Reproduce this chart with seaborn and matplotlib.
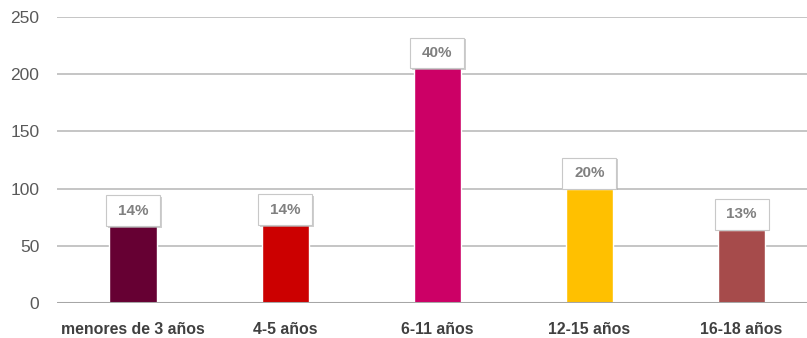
import matplotlib
matplotlib.use("Agg")
import matplotlib.pyplot as plt
import matplotlib.patheffects as pe
from matplotlib.patches import Rectangle
import seaborn as sns
import pandas as pd

categories = ["menores de 3 años", "4-5 años", "6-11 años", "12-15 años", "16-18 años"]
values = [67, 68, 205, 100, 64]
pct_labels = ["14%", "14%", "40%", "20%", "13%"]
colors = ["#660033", "#CC0000", "#CC0066", "#FFC000", "#A64B4B"]
yticks = [0, 50, 100, 150, 200, 250]

sns.set_theme(style="white")
plt.rcParams["font.family"] = ["Liberation Sans", "DejaVu Sans"]

df = pd.DataFrame({"cat": categories, "val": values})

fig = plt.figure(figsize=(8.07, 3.38), dpi=100)
ax = fig.add_axes([57 / 807, 1 - 303 / 338, 1 - 57 / 807, 286 / 338])

sns.barplot(data=df, x="cat", y="val", hue="cat", palette=colors, width=0.31,
            legend=False, ax=ax, saturation=1, zorder=3)

ax.set_ylim(0, 250)
ax.set_xlim(-0.5, 4.43)
ax.set_yticks(yticks)
for t in yticks:
    if t == 0:
        ax.axhline(t, color="#a6a6a6", lw=2.2, zorder=4)
    else:
        ax.axhline(t, color="#c0c0c0", lw=1.3, zorder=1)

for s in ax.spines.values():
    s.set_visible(False)

ax.set_xlabel("")
ax.set_ylabel("")
ax.tick_params(axis="y", length=0, pad=12.7, labelsize=12.5, labelcolor="#595959")
ax.tick_params(axis="x", length=0, pad=14, labelsize=11.4)
for lbl in ax.get_xticklabels():
    lbl.set_fontweight("bold")
    lbl.set_color("#404040")

box_w = 0.355
box_h = 27.0
for i, (v, lab) in enumerate(zip(values, pct_labels)):
    rect = Rectangle((i - box_w / 2, v), box_w, box_h, facecolor="white",
                     edgecolor="#c8c8c8", lw=0.8, zorder=5)
    rect.set_path_effects([pe.SimplePatchShadow(offset=(1.2, -1.2), shadow_rgbFace="#b0b0b0", alpha=0.6),
                           pe.Normal()])
    ax.add_patch(rect)
    ax.text(i, v + box_h / 2, lab, ha="center", va="center", fontsize=11,
            fontweight="bold", color="#808080", zorder=6)

fig.savefig("out.png", dpi=100)
